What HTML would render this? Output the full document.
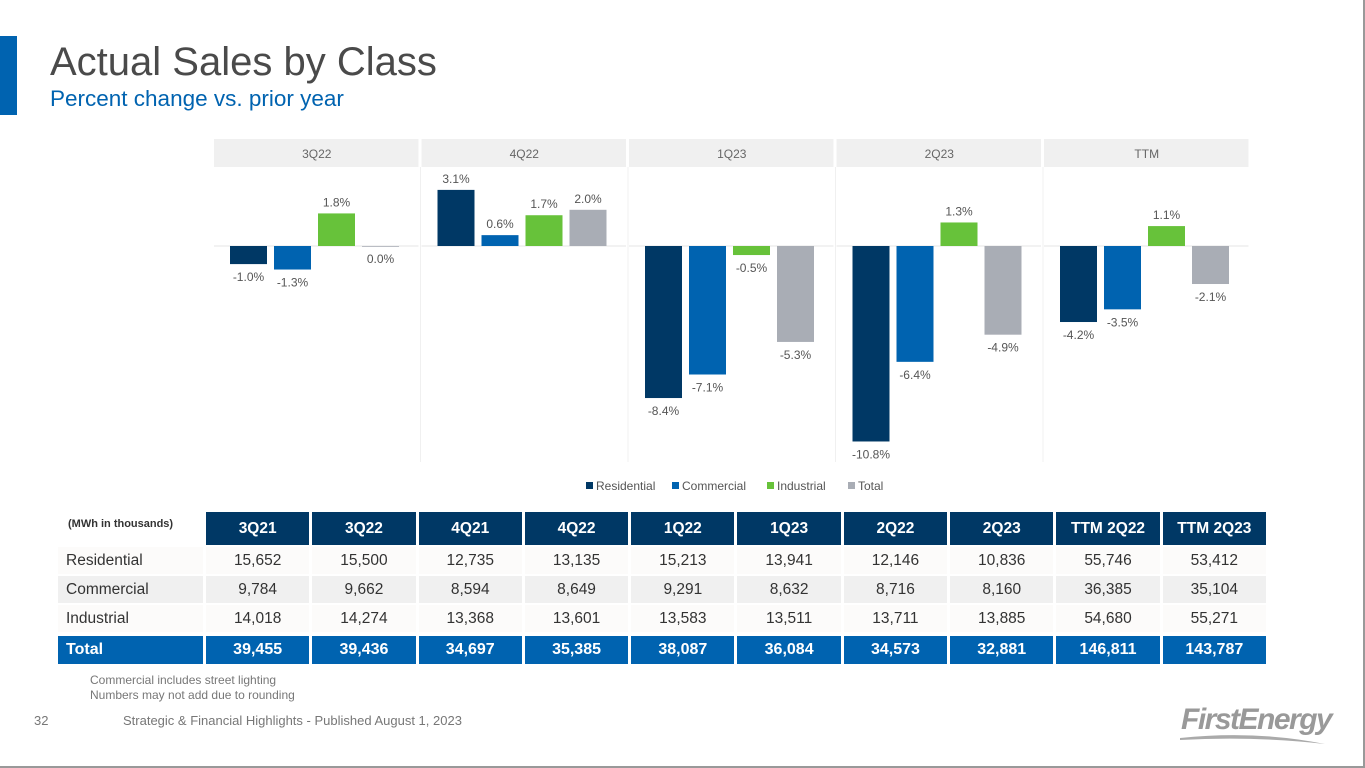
<!DOCTYPE html>
<html><head><meta charset="utf-8">
<style>
body{margin:0;width:1365px;height:768px;overflow:hidden;background:#fff;font-family:"Liberation Sans",Arial,sans-serif;position:relative}
.abs{position:absolute}
table{border-collapse:separate;border-spacing:3px 2px;position:absolute;left:55px;top:510px;font-size:15.5px;color:#333;table-layout:fixed;width:1214px}
td{text-align:center;padding:0;height:27px;overflow:hidden;white-space:nowrap}
td.lab{text-align:left;padding-left:8px}
th{background:#003865;color:#fff;font-size:15.5px;height:33px;padding:0;font-weight:bold;white-space:nowrap}
th.lab{background:#fff;color:#333;font-size:11px;text-align:left;vertical-align:top;padding:6px 0 0 10px;height:27px}
tr.r0 td{background:#fcfbfa}
tr.r1 td{background:#f0f0f0}
tr.r2 td{background:#fcfbfa}
tr.tot td{background:#0063b0;color:#fff;font-weight:bold;height:28px;font-size:16px}
tr.tot td{border-top:2px solid #fff}
</style></head><body>
<div class="abs" style="left:0;top:0;width:1363px;height:766px;border-right:2px solid #999;border-bottom:2px solid #999"></div>
<div class="abs" style="left:0;top:36px;width:17px;height:79px;background:#0063b0"></div>
<div class="abs" style="left:50px;top:40px;font-size:40px;color:#4a4a4a">Actual Sales by Class</div>
<div class="abs" style="left:50px;top:86px;font-size:22.5px;color:#0063b0">Percent change vs. prior year</div>

<svg class="abs" style="left:0;top:0" width="1365" height="500" id="chart"></svg>

<table>
<colgroup><col style="width:145px"><col><col><col><col><col><col><col><col><col><col></colgroup>
<tr><th class="lab">(MWh in thousands)</th><th>3Q21</th><th>3Q22</th><th>4Q21</th><th>4Q22</th><th>1Q22</th><th>1Q23</th><th>2Q22</th><th>2Q23</th><th>TTM 2Q22</th><th>TTM 2Q23</th></tr>
<tr class="r0"><td class="lab">Residential</td><td>15,652</td><td>15,500</td><td>12,735</td><td>13,135</td><td>15,213</td><td>13,941</td><td>12,146</td><td>10,836</td><td>55,746</td><td>53,412</td></tr>
<tr class="r1"><td class="lab">Commercial</td><td>9,784</td><td>9,662</td><td>8,594</td><td>8,649</td><td>9,291</td><td>8,632</td><td>8,716</td><td>8,160</td><td>36,385</td><td>35,104</td></tr>
<tr class="r2"><td class="lab">Industrial</td><td>14,018</td><td>14,274</td><td>13,368</td><td>13,601</td><td>13,583</td><td>13,511</td><td>13,711</td><td>13,885</td><td>54,680</td><td>55,271</td></tr>
<tr class="tot"><td class="lab">Total</td><td>39,455</td><td>39,436</td><td>34,697</td><td>35,385</td><td>38,087</td><td>36,084</td><td>34,573</td><td>32,881</td><td>146,811</td><td>143,787</td></tr>
</table>

<div class="abs" style="left:90px;top:673px;font-size:12px;color:#777;line-height:15px">Commercial includes street lighting<br>Numbers may not add due to rounding</div>
<div class="abs" style="left:34px;top:713px;font-size:13px;color:#777">32</div>
<div class="abs" style="left:123px;top:713px;font-size:13px;color:#777">Strategic &amp; Financial Highlights - Published August 1, 2023</div>
<div class="abs" style="left:1181px;top:703px;font-size:30px;font-style:italic;font-weight:bold;color:#999;letter-spacing:-1.5px">FirstEnergy</div>
<svg class="abs" style="left:1175px;top:732px" width="160" height="16"><path d="M5 6 Q80 -2 150 12 Q80 4 5 8Z" fill="#aaa"/></svg>

<script>
const periods=["3Q22","4Q22","1Q23","2Q23","TTM"];
const series=["Residential","Commercial","Industrial","Total"];
const residential=[-1.0,3.1,-8.4,-10.8,-4.2];
const commercial=[-1.3,0.6,-7.1,-6.4,-3.5];
const industrial=[1.8,1.7,-0.5,1.3,1.1];
const total=[0.0,2.0,-5.3,-4.9,-2.1];
const values=[residential,commercial,industrial,total];
const colors=["#003865","#0063b0","#67c23a","#a9adb5"];
const svg=document.getElementById('chart');
const NS="http://www.w3.org/2000/svg";
const x0=213,pw=207.5,zeroY=246,ppu=18.1;
function y(v){return zeroY-v*ppu;}
function px(i){return x0+i*pw;}
function mk(t,a){const e=document.createElementNS(NS,t);for(const k in a)e.setAttribute(k,a[k]);svg.appendChild(e);return e;}
periods.forEach((p,i)=>{
  const h=mk('rect',{x:px(i)+1,y:139,width:pw-3,height:28,fill:'#f0f0f0'});
  
  
  const t=mk('text',{x:px(i)+pw/2,y:158,'text-anchor':'middle','font-size':12,fill:'#666'});t.textContent=p;
  
  
  if(i>0){const l=mk('line',{x1:px(i),x2:px(i),y1:167,y2:462,stroke:'#f0f0f0'});
  
  }
  const z=mk('line',{x1:px(i)+1,x2:px(i)+pw-2,y1:zeroY,y2:zeroY,stroke:'#e6e6e6'});
  
  
  series.forEach((s,j)=>{
    const v=values[j][i];
    const bx=px(i)+17+j*44;
    const top=Math.min(y(v),zeroY),hh=Math.max(Math.abs(y(v)-zeroY),0.8);
    const r=mk('rect',{x:bx,y:top,width:37,height:hh,fill:colors[j]});
    
    
    const ly=v>0?y(v)-7:(v<0?y(v)+17:zeroY+17);
    const lt=mk('text',{x:bx+18.5,y:ly,'text-anchor':'middle','font-size':12,fill:'#555'});
    lt.textContent=v.toFixed(1)+'%';
    
    
  });
});
let lx=586;
const lw=[75,84,70,45];
series.forEach((s,j)=>{
  const r=mk('rect',{x:lx,y:482,width:7,height:7,fill:colors[j]});
  
  
  const t=mk('text',{x:lx+10,y:490,'font-size':12,fill:'#555'});t.textContent=s;
  
  
  lx+=lw[j]+11;
});
</script>
</body></html>
